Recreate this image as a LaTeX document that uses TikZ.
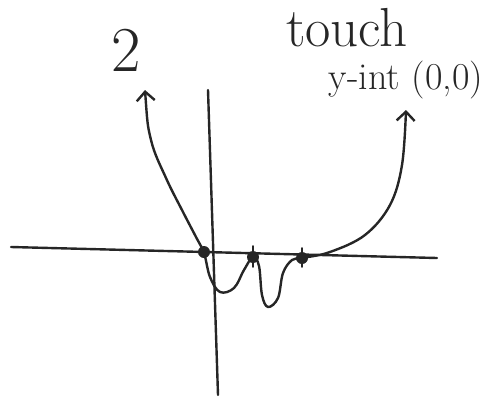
\documentclass[tikz,border=0pt]{standalone}
\usetikzlibrary{arrows.meta}
\begin{document}
\begin{tikzpicture}[x=1pt,y=-1pt,
  ink/.style={draw=black!85,line width=2.4pt,line cap=round,line join=round},
  dotmark/.style={fill=black!85,circle,inner sep=0pt,minimum size=12pt},
  hand/.style={text=black!85,inner sep=0pt}]
\useasboundingbox (0,0) rectangle (501,400);
% axes
\draw[ink] (11,247) -- (437,258);
\draw[ink] (208,90) -- (218,395);
% curve
\draw[ink,{Straight Barb[length=9pt,width=18pt]}-{Straight Barb[length=9pt,width=18pt]}]
  plot[smooth,tension=0.6] coordinates {(145,90) (151,140) (166,178) (183,212) (196,237) (204,253) (210,277) (220,292) (234,288) (244,270) (253,257) (259,266) (262,295) (268,307) (278,298) (283,273) (292,260) (302,258) (330,252) (365,235) (390,205) (402,165) (406,110)};
% x-intercept dots
\coordinate (p1) at (204,252);
\coordinate (p2) at (253,257);
\coordinate (p3) at (302,258);
\node[dotmark] at (p1) {};
\node[dotmark] at (p2) {};
\node[dotmark] at (p3) {};
\draw[ink,line width=1.8pt] (253,246) -- (253,267);
\draw[ink,line width=1.8pt] (302,248) -- (302,267);
% labels
\node[hand,font=\fontsize{64}{64}\selectfont] (two) at (126,50) {2};
\node[hand,font=\fontsize{55}{55}\selectfont] (touch) at (347,28) {touch};
\node[hand,font=\fontsize{38}{38}\selectfont] (yint) at (406,80) {y-int (0,0)};
\end{tikzpicture}
\end{document}
